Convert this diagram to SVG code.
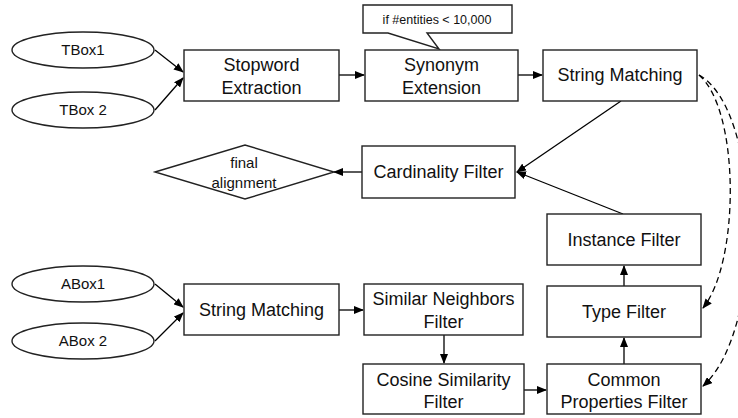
<svg xmlns="http://www.w3.org/2000/svg" width="738" height="418" viewBox="0 0 738 418">
<style>
.box{fill:#fff;stroke:#222;stroke-width:1.4}
.t{font-family:"Liberation Sans",Arial,sans-serif;font-size:18px;fill:#111;text-anchor:middle}
.s{font-family:"Liberation Sans",Arial,sans-serif;font-size:15px;fill:#111;text-anchor:middle}
.c{font-family:"Liberation Sans",Arial,sans-serif;font-size:12.5px;fill:#111;text-anchor:middle}
.e{fill:none;stroke:#000;stroke-width:1.3;marker-end:url(#ah)}
.d{fill:none;stroke:#000;stroke-width:1.3;stroke-dasharray:6,4;marker-end:url(#ah)}
</style>
<defs>
<marker id="ah" markerUnits="userSpaceOnUse" markerWidth="10" markerHeight="8" refX="9" refY="4" orient="auto">
<path d="M0,0 L10,4 L0,8 z" fill="#000"/>
</marker>
</defs>
<rect width="738" height="418" fill="#fff"/>
<g id="connectors">
<line class="e" x1="155" y1="50" x2="183" y2="72"/>
<line class="e" x1="155" y1="110" x2="183" y2="78"/>
<line class="e" x1="339" y1="75" x2="364" y2="75"/>
<line class="e" x1="518" y1="75" x2="542" y2="75"/>
<line class="e" x1="621" y1="101" x2="517" y2="172"/>
<line class="e" x1="623" y1="214" x2="517" y2="172"/>
<line class="e" x1="362" y1="172" x2="334" y2="172"/>
<line class="e" x1="155" y1="284" x2="183" y2="307"/>
<line class="e" x1="155" y1="341" x2="183" y2="313"/>
<line class="e" x1="339" y1="310" x2="363" y2="310"/>
<line class="e" x1="444" y1="335" x2="444" y2="363"/>
<line class="e" x1="524" y1="390" x2="546" y2="390"/>
<line class="e" x1="624" y1="364" x2="624" y2="338"/>
<line class="e" x1="624" y1="286" x2="624" y2="266"/>
<path class="d" d="M699,75 C740,110 740,262 703,308"/>
<path class="d" d="M699,75 C762,110 766,330 703,386"/>
</g>
<g id="tbox1"><ellipse class="box" cx="83" cy="50" rx="71" ry="18"/><text class="s" x="83" y="55">TBox1</text></g>
<g id="tbox2"><ellipse class="box" cx="83" cy="110" rx="71" ry="18"/><text class="s" x="83" y="115">TBox 2</text></g>
<g id="stopword"><rect class="box" x="184" y="50" width="155" height="51"/><text class="t" x="261.5" y="71">Stopword</text><text class="t" x="261.5" y="94">Extraction</text></g>
<g id="callout"><path class="box" d="M363,5 H512 V33 H427 L439,49 L388,33 H363 Z"/><text class="c" x="437" y="24">if #entities &lt; 10,000</text></g>
<g id="synonym"><rect class="box" x="365" y="50" width="153" height="51"/><text class="t" x="441.5" y="71">Synonym</text><text class="t" x="441.5" y="94">Extension</text></g>
<g id="stringmatch1"><rect class="box" x="543" y="50" width="154" height="51"/><text class="t" x="620" y="81">String Matching</text></g>
<g id="cardinality"><rect class="box" x="362" y="146" width="153" height="52"/><text class="t" x="438.5" y="178">Cardinality Filter</text></g>
<g id="final"><polygon class="box" points="155,172 245,145 334,172 245,199"/><text class="s" x="244" y="168">final</text><text class="s" x="244" y="188">alignment</text></g>
<g id="instance"><rect class="box" x="547" y="214" width="154" height="51"/><text class="t" x="624" y="246">Instance Filter</text></g>
<g id="type"><rect class="box" x="547" y="286" width="154" height="51"/><text class="t" x="624" y="318">Type Filter</text></g>
<g id="common"><rect class="box" x="547" y="364" width="154" height="50"/><text class="t" x="624" y="386">Common</text><text class="t" x="624" y="408">Properties Filter</text></g>
<g id="abox1"><ellipse class="box" cx="83" cy="284" rx="71" ry="18"/><text class="s" x="83" y="289">ABox1</text></g>
<g id="abox2"><ellipse class="box" cx="83" cy="341" rx="71" ry="18"/><text class="s" x="83" y="346">ABox 2</text></g>
<g id="stringmatch2"><rect class="box" x="184" y="284" width="155" height="51"/><text class="t" x="261.5" y="316">String Matching</text></g>
<g id="similar"><rect class="box" x="364" y="284" width="159" height="51"/><text class="t" x="443.5" y="305">Similar Neighbors</text><text class="t" x="443.5" y="328">Filter</text></g>
<g id="cosine"><rect class="box" x="363" y="364" width="161" height="50"/><text class="t" x="443.5" y="386">Cosine Similarity</text><text class="t" x="443.5" y="408">Filter</text></g>
</svg>
